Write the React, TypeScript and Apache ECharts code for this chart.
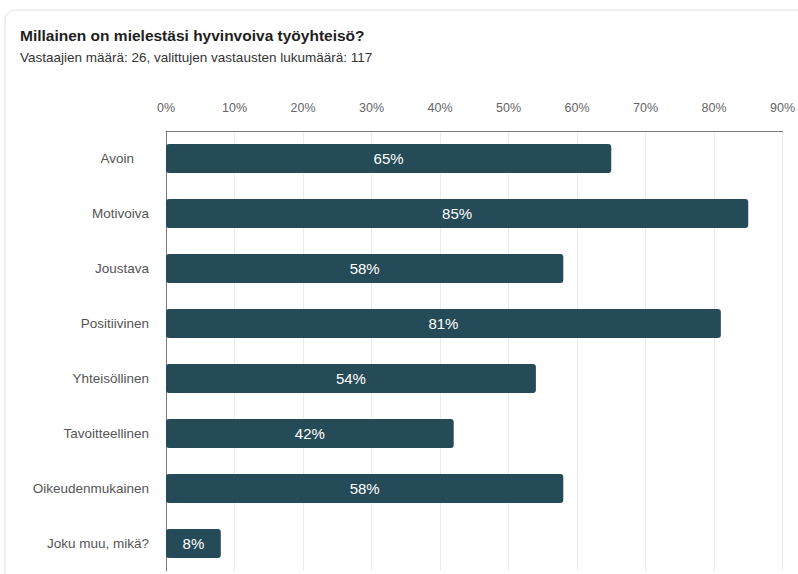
import React, { useEffect, useRef } from "react";
import * as echarts from "echarts";

const titleText = "Millainen on mielestäsi hyvinvoiva työyhteisö?";
const subtitleText = "Vastaajien määrä: 26, valittujen vastausten lukumäärä: 117";
const categories = [
  "Avoin",
  "Motivoiva",
  "Joustava",
  "Positiivinen",
  "Yhteisöllinen",
  "Tavoitteellinen",
  "Oikeudenmukainen",
  "Joku muu, mikä?",
];
const percentValues = [65, 85, 58, 81, 54, 42, 58, 8];
const axisMax = 90;
const axisStep = 10;

const FONT = "'Liberation Sans', Arial, Helvetica, sans-serif";

export default function App() {
  const ref = useRef<HTMLDivElement>(null);
  useEffect(() => {
    document.body.style.margin = "0";
    if (!ref.current) return;
    const chart = echarts.init(ref.current, undefined, { renderer: "svg" });
    chart.setOption({
      animation: false,
      backgroundColor: "#ffffff",
      textStyle: { fontFamily: FONT },
      title: {
        text: titleText,
        subtext: subtitleText,
        left: 20,
        top: 27,
        padding: 0,
        itemGap: 7,
        textStyle: { fontFamily: FONT, fontSize: 15.5, fontWeight: "bold", color: "#1e1e1e" },
        subtextStyle: { fontFamily: FONT, fontSize: 13.5, color: "#333333" },
      },
      graphic: [
        {
          type: "rect",
          shape: { x: 5, y: 10, width: 830, height: 620, r: 10 },
          style: { fill: "none", stroke: "#e2e2e2", lineWidth: 1 },
          silent: true,
          z: -1,
        },
      ],
      grid: { left: 166, right: 12, top: 131, bottom: 3, containLabel: false },
      xAxis: {
        type: "value",
        position: "top",
        min: 0,
        max: axisMax,
        interval: axisStep,
        axisLine: { show: true, lineStyle: { color: "#7a7a7a", width: 1 } },
        axisTick: { show: false },
        splitLine: { show: true, lineStyle: { color: "#ebebeb", width: 1 } },
        axisLabel: {
          formatter: "{value}%",
          color: "#666666",
          fontSize: 12.5,
          fontFamily: FONT,
          margin: 17,
        },
      },
      yAxis: {
        type: "category",
        inverse: true,
        data: categories,
        axisLine: { show: true, lineStyle: { color: "#7a7a7a", width: 1 } },
        axisTick: { show: false },
        axisLabel: {
          color: "#555555",
          fontSize: 13.5,
          fontFamily: FONT,
          margin: 17,
          formatter: (v: string) => (v === "Avoin" ? "{p|" + v + "}" : v),
          rich: {
            p: { color: "#555555", fontSize: 13.5, fontFamily: FONT, padding: [0, 15, 0, 0] },
          },
        },
      },
      series: [
        {
          type: "bar",
          data: percentValues,
          barWidth: 29,
          itemStyle: { color: "#264b58", borderRadius: 3 },
          label: {
            show: true,
            position: "inside",
            formatter: "{c}%",
            color: "#ffffff",
            fontSize: 15,
            fontFamily: FONT,
          },
        },
      ],
    });
    return () => chart.dispose();
  }, []);
  return <div ref={ref} style={{ width: 798, height: 574 }} />;
}
